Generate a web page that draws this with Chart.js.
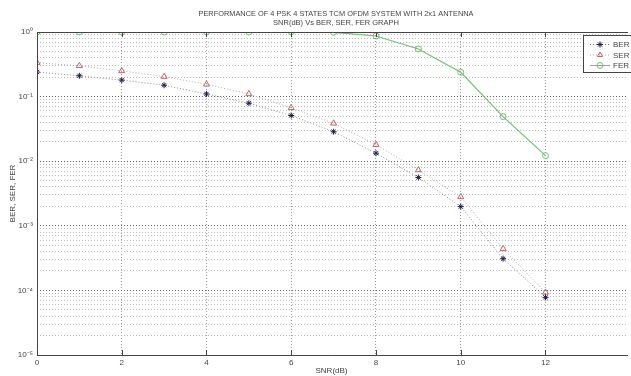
<!DOCTYPE html>
<html>
<head>
<meta charset="utf-8">
<script src="https://cdn.jsdelivr.net/npm/chart.js@4/dist/chart.umd.min.js"></script>
<style>
  html, body { margin: 0; padding: 0; background: #fff; }
  #wrap { width: 631px; height: 376px; position: relative; }
</style>
</head>
<body>
<div id="wrap"><canvas id="grafico"></canvas></div>
<script>
// dados
const snr = [0, 1, 2, 3, 4, 5, 6, 7, 8, 9, 10, 11, 12];
const ber = [0.24, 0.21, 0.18, 0.15, 0.11, 0.079, 0.051, 0.0286, 0.0133, 0.0056, 0.00198, 0.00031, 0.000078];
const ser = [0.335, 0.30, 0.25, 0.204, 0.155, 0.11, 0.067, 0.0386, 0.018, 0.0073, 0.0028, 0.00044, 0.000093];
const fer = [1, 1, 1, 1, 1, 1, 1, 0.99, 0.867, 0.545, 0.238, 0.049, 0.0122];
const xTicks = [0, 2, 4, 6, 8, 10, 12];
const titulo = ["PERFORMANCE OF 4 PSK 4 STATES TCM OFDM SYSTEM WITH 2x1 ANTENNA", "SNR(dB) Vs BER, SER, FER GRAPH"];

const fonte = "'Liberation Sans Narrow', 'Liberation Sans', Arial, sans-serif";
const sup = { "0": "\u2070", "1": "\u00b9", "2": "\u00b2", "3": "\u00b3", "4": "\u2074", "5": "\u2075", "-": "\u207b" };
const isDecade = v => Math.abs(Math.log10(v) - Math.round(Math.log10(v))) < 1e-6;

const toPts = arr => snr.map((x, i) => ({ x, y: arr[i] }));

const legendas = [
  { label: "BER", color: "#1c1c4c", line: "#777", dash: [1, 2], style: "star" },
  { label: "SER", color: "#b86a6a", line: "#aaa", dash: [1, 2], style: "triangle" },
  { label: "FER", color: "#72c072", line: "#72c072", dash: [], style: "circle" }
];

// titulo, moldura e legenda desenhados à mão
const extras = {
  id: "extras",
  afterDraw(chart) {
    const c = chart.ctx;
    const a = chart.chartArea;
    c.save();
    c.strokeStyle = "#444";
    c.lineWidth = 1;
    c.setLineDash([]);
    c.beginPath();
    c.moveTo(a.right + 2, a.top + 0.5);
    c.lineTo(a.left + 0.5, a.top + 0.5);
    c.lineTo(a.left + 0.5, a.bottom + 0.5);
    c.lineTo(a.right + 2, a.bottom + 0.5);
    c.stroke();

    // pequenas marcas do eixo x (dentro da área)
    const sx = chart.scales.x;
    xTicks.forEach(v => {
      const px = Math.round(sx.getPixelForValue(v)) + 0.5;
      c.beginPath();
      c.moveTo(px, a.bottom);
      c.lineTo(px, a.bottom - 5);
      c.moveTo(px, a.top);
      c.lineTo(px, a.top + 5);
      c.stroke();
    });

    c.fillStyle = "#444";
    c.font = "7.5px " + fonte;
    c.textAlign = "center";
    c.textBaseline = "middle";
    c.fillText(titulo[0], 336, 14, 275);
    c.fillText(titulo[1], 336, 23, 126);

    // legenda
    c.fillStyle = "#fff";
    c.fillRect(583.5, 35.5, 60, 37);
    c.strokeStyle = "#444";
    c.strokeRect(583.5, 35.5, 60, 37);
    c.font = "8px " + fonte;
    legendas.forEach((l, i) => {
      const y = 44 + i * 10.5;
      c.strokeStyle = l.line;
      c.setLineDash(l.dash);
      c.beginPath();
      c.moveTo(590, y + 0.5);
      c.lineTo(610, y + 0.5);
      c.stroke();
      c.setLineDash([]);
      c.strokeStyle = l.color;
      c.fillStyle = "rgba(0,0,0,0)";
      Chart.helpers.drawPoint(c, { pointStyle: l.style, radius: 3, borderWidth: 1, rotation: 0 }, 600, y + 0.5);
      c.fillStyle = "#444";
      c.textAlign = "left";
      c.fillText(l.label, 613, y + 1);
    });
    c.restore();
  }
};

new Chart(document.getElementById("grafico"), {
  type: "line",
  data: {
    datasets: [
      {
        label: "BER", data: toPts(ber),
        borderColor: "#888", borderDash: [1, 2], borderWidth: 1,
        pointStyle: "star", pointRadius: 3, pointBorderColor: "#1c1c4c", pointBorderWidth: 1,
        pointBackgroundColor: "#1c1c4c", tension: 0
      },
      {
        label: "SER", data: toPts(ser),
        borderColor: "#b0a8a8", borderDash: [1, 2], borderWidth: 1,
        pointStyle: "triangle", pointRadius: 3.5, pointBorderColor: "#b86a6a", pointBorderWidth: 1,
        pointBackgroundColor: "rgba(0,0,0,0)", tension: 0
      },
      {
        label: "FER", data: toPts(fer),
        borderColor: "#72c072", borderWidth: 1.2,
        pointStyle: "circle", pointRadius: 3, pointBorderColor: "#72c072", pointBorderWidth: 1,
        pointBackgroundColor: "rgba(0,0,0,0)", tension: 0
      }
    ]
  },
  options: {
    responsive: true,
    maintainAspectRatio: false,
    animation: false,
    layout: { padding: { top: 32, right: 0, left: 8, bottom: 0 } },
    plugins: {
      legend: { display: false },
      title: { display: false },
      tooltip: { enabled: false }
    },
    scales: {
      x: {
        type: "linear",
        min: 0,
        max: 13.9,
        afterBuildTicks: s => { s.ticks = xTicks.map(v => ({ value: v })); },
        afterFit: s => { s.height = 21; },
        border: { display: false, dash: [1, 2] },
        grid: { color: "#999", drawTicks: false },
        ticks: { color: "#444", font: { size: 8, family: fonte }, padding: 3, maxRotation: 0 },
        title: {
          display: true, text: "SNR(dB)", color: "#444", padding: 0,
          font: { size: 8, family: fonte }
        }
      },
      y: {
        type: "logarithmic",
        min: 1e-5,
        max: 1,
        afterBuildTicks: s => {
          const t = [];
          for (let e = -5; e < 0; e++) {
            for (let m = 1; m < 10; m++) t.push({ value: m * Math.pow(10, e) });
          }
          t.push({ value: 1 });
          s.ticks = t;
        },
        afterFit: s => { s.width = 29; },
        border: { display: false, dash: [1, 2] },
        grid: {
          color: ctx => (ctx.tick && isDecade(ctx.tick.value)) ? "#666" : "#bbb",
          drawTicks: false
        },
        ticks: {
          color: "#444",
          font: { size: 8, family: fonte },
          padding: 4,
          autoSkip: false,
          callback: v => {
            if (!isDecade(v)) return "";
            const e = String(Math.round(Math.log10(v)));
            return "10" + e.split("").map(ch => sup[ch]).join("");
          }
        },
        title: {
          display: true, text: "BER, SER, FER", color: "#444", padding: 0,
          font: { size: 8, family: fonte }
        }
      }
    }
  },
  plugins: [extras]
});
</script>
</body>
</html>
